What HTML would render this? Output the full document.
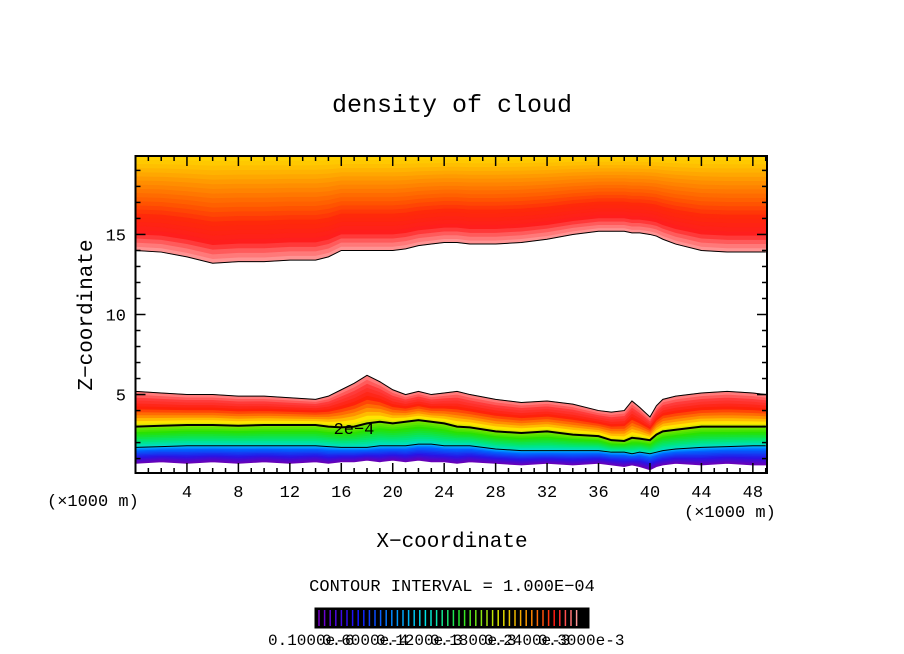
<!DOCTYPE html>
<html><head><meta charset="utf-8">
<style>
body{margin:0;background:#fff;}
svg{display:block;font-family:"Liberation Mono",monospace;}
</style></head><body>
<svg id="c" width="904" height="654" viewBox="0 0 904 654">
<text x="452" y="112" text-anchor="middle" font-size="25">density of cloud</text>
<g id="plot"></g>
<g id="axes"></g>
<text x="452" y="547" text-anchor="middle" font-size="21">X−coordinate</text>
<text transform="translate(92,315) rotate(-90)" text-anchor="middle" font-size="21">Z−coordinate</text>
<text x="47" y="506" font-size="17">(×1000 m)</text>
<text x="684" y="517" font-size="17">(×1000 m)</text>
<text x="452" y="591" text-anchor="middle" font-size="17">CONTOUR INTERVAL = 1.000E−04</text>
<g id="cbar"></g>
</svg>
<script>
const xs=[0,2,4,6,8,10,12,14,15,16,17,18,19,20,21,22,23,24,25,26,28,30,32,34,36,37,38,38.6,39.2,40,40.5,41,42,44,46,48,49];
const upperBottom=[14.0,13.9,13.6,13.2,13.3,13.3,13.4,13.4,13.6,14.0,14.0,14.0,14.0,14.0,14.1,14.3,14.4,14.5,14.5,14.4,14.4,14.5,14.7,15.0,15.2,15.2,15.2,15.1,15.1,15.0,14.9,14.7,14.4,14.0,13.9,13.9,13.9];
const lowerTop=[5.2,5.1,5.0,5.0,4.9,4.9,4.8,4.7,4.9,5.3,5.7,6.2,5.8,5.3,5.0,5.2,5.0,5.1,5.2,5.0,4.7,4.5,4.6,4.4,4.0,3.9,4.0,4.6,4.2,3.6,4.3,4.7,4.9,5.1,5.2,5.1,5.0];
const contour2e4=[3.0,3.05,3.1,3.1,3.05,3.1,3.1,3.1,3.0,2.95,3.0,3.2,3.3,3.2,3.3,3.4,3.3,3.2,3.0,2.95,2.7,2.6,2.7,2.5,2.4,2.15,2.1,2.3,2.25,2.15,2.5,2.7,2.8,3.0,3.0,3.0,3.0];
const contourLow=[1.7,1.75,1.8,1.8,1.8,1.8,1.8,1.8,1.75,1.7,1.7,1.7,1.8,1.8,1.8,1.9,1.9,1.8,1.8,1.8,1.6,1.5,1.5,1.5,1.5,1.4,1.4,1.3,1.4,1.3,1.4,1.5,1.6,1.7,1.75,1.8,1.8];
const lowerBottom=[0.7,0.8,0.7,0.8,0.7,0.8,0.7,0.8,0.7,0.8,0.8,0.9,0.8,0.9,0.8,0.9,0.8,0.8,0.7,0.8,0.7,0.6,0.7,0.6,0.7,0.6,0.5,0.6,0.5,0.3,0.5,0.6,0.7,0.6,0.7,0.6,0.6];
const xTicks=[4,8,12,16,20,24,28,32,36,40,44,48];
const yTicks=[5,10,15];
const cbarLabels=["0.1000e-6","0.6000e-4","0.1200e-3","0.1800e-3","0.2400e-3","0.3000e-3"];
const X0=135.5,X1=767,Y0=473,Y1=156,XMIN=0,XMAX=49.1,ZMIN=0.1,ZMAX=19.9;
const sx=v=>X0+(v-XMIN)/(XMAX-XMIN)*(X1-X0);
const sy=v=>Y0-(v-ZMIN)/(ZMAX-ZMIN)*(Y0-Y1);
const NS='http://www.w3.org/2000/svg';
function mk(t,a,p){const e=document.createElementNS(NS,t);for(const k in a)e.setAttribute(k,a[k]);p.appendChild(e);return e;}
function lerpC(stops,t){for(let i=1;i<stops.length;i++){if(t<=stops[i][0]){const a=stops[i-1],b=stops[i],f=(t-a[0])/(b[0]-a[0]||1);return 'rgb('+[1,2,3].map(j=>Math.round(a[j]+(b[j]-a[j])*f)).join(',')+')';}}const l=stops[stops.length-1];return 'rgb('+l[1]+','+l[2]+','+l[3]+')';}
const plot=document.getElementById('plot');
const clip=mk('clipPath',{id:'pc'},plot);mk('rect',{x:X0,y:Y1,width:X1-X0,height:Y0-Y1},clip);
const g=mk('g',{'clip-path':'url(#pc)'},plot);
function band(lo,hi,col,name){let d='M'+xs.map((x,i)=>sx(x)+','+sy(hi[i])).join('L');for(let i=xs.length-1;i>=0;i--)d+='L'+sx(xs[i])+','+sy(lo[i]);const p=mk('path',{d:d+'Z',fill:col,stroke:col,'stroke-width':0.8},g);}
const upStops=[[0,255,160,160],[0.08,255,110,110],[0.18,255,30,30],[0.35,255,40,10],[0.5,255,90,0],[0.68,255,140,0],[0.85,255,190,0],[1,255,225,0]];
const NU=24;
for(let k=0;k<NU;k++){const a=k/NU,b=(k+1)/NU;band(upperBottom.map(v=>v+(ZMAX+0.3-v)*a),upperBottom.map(v=>v+(ZMAX+0.3-v)*b),lerpC(upStops,(a+b)/2),'upper-cloud-band');}
const segs=[[lowerBottom,contourLow,[[0,110,0,180],[0.4,40,20,230],[0.8,0,100,255],[1,0,180,255]]],[contourLow,contour2e4,[[0,0,220,220],[0.3,0,230,120],[0.7,40,225,0],[1,130,230,0]]],[contour2e4,lowerTop,[[0,200,230,0],[0.12,255,230,0],[0.3,255,140,0],[0.55,255,30,10],[0.8,255,60,60],[1,255,140,140]]]];
segs.forEach(([lo,hi,st])=>{const N=12;for(let k=0;k<N;k++){const a=k/N,b=(k+1)/N;band(lo.map((v,i)=>v+(hi[i]-v)*a),lo.map((v,i)=>v+(hi[i]-v)*b),lerpC(st,(a+b)/2),'lower-cloud-band');}});
function line(arr,w,name){const p=mk('path',{d:'M'+xs.map((x,i)=>sx(x)+','+sy(arr[i])).join('L'),fill:'none',stroke:'#000','stroke-width':w},g);}
line(upperBottom,1,'upper-cloud-edge');line(lowerTop,1,'lower-cloud-edge');line(contour2e4,2,'contour-2e-4');line(contourLow,1,'contour-low');
const lbl=mk('text',{x:sx(15.4),y:sy(2.55),'font-size':17,fill:'#000'},g);lbl.textContent='2e−4';

const ax=document.getElementById('axes');
const fr=mk('rect',{x:X0,y:Y1,width:X1-X0,height:Y0-Y1,fill:'none',stroke:'#000','stroke-width':2},ax);

for(let v=1;v<=49;v++){const L=v%4===0?10:5;mk('line',{x1:sx(v),x2:sx(v),y1:Y0,y2:Y0-L,stroke:'#000','stroke-width':1.5},ax);mk('line',{x1:sx(v),x2:sx(v),y1:Y1,y2:Y1+L,stroke:'#000','stroke-width':1.5},ax);}
for(let v=1;v<=19;v++){const L=v%5===0?10:5;mk('line',{x1:X0,x2:X0+L,y1:sy(v),y2:sy(v),stroke:'#000','stroke-width':1.5},ax);mk('line',{x1:X1,x2:X1-L,y1:sy(v),y2:sy(v),stroke:'#000','stroke-width':1.5},ax);}
xTicks.forEach(v=>{const t=mk('text',{x:sx(v),y:497,'text-anchor':'middle','font-size':17},ax);t.textContent=v;});
yTicks.forEach(v=>{const t=mk('text',{x:126,y:sy(v)+6,'text-anchor':'end','font-size':17},ax);t.textContent=v;});
const cb=document.getElementById('cbar');
const cr=mk('rect',{x:315,y:608,width:274,height:20,fill:'#000',stroke:'#000'},cb);

const cbStops=[[0,120,0,200],[0.15,20,20,255],[0.3,0,150,255],[0.42,0,230,230],[0.55,40,230,40],[0.7,220,230,0],[0.82,255,140,0],[0.92,255,20,20],[1,255,150,150]];
for(let k=0;k<47;k++){const t=k/46;mk('line',{x1:319+k*5.6,x2:319+k*5.6,y1:610,y2:626,stroke:lerpC(cbStops,t),'stroke-width':1.5},cb);}
cbarLabels.forEach((s,i)=>{const t=mk('text',{x:268+i*54,y:645,'font-size':16},cb);t.textContent=s;});
</script>
</body></html>
